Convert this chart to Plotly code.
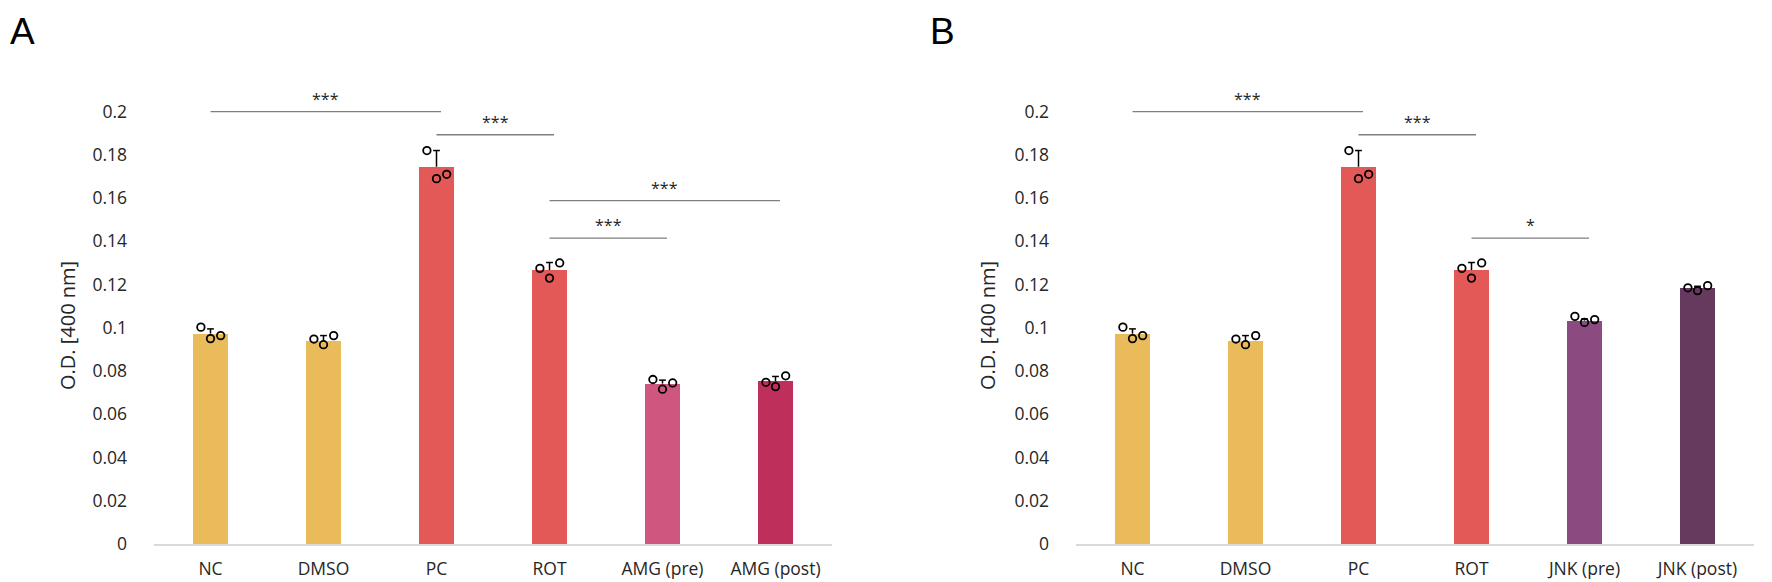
import plotly.graph_objects as go

# ---------------- data ----------------
categories_A = ["NC", "DMSO", "PC", "ROT", "AMG (pre)", "AMG (post)"]
categories_B = ["NC", "DMSO", "PC", "ROT", "JNK (pre)", "JNK (post)"]

means_A = [0.0973, 0.0941, 0.1745, 0.1267, 0.0742, 0.0752]
err_A = [0.0022, 0.0023, 0.0075, 0.0035, 0.0016, 0.0023]
reps_A = [
    [0.1003, 0.0950, 0.0964],
    [0.0948, 0.0922, 0.0964],
    [0.1820, 0.1690, 0.1710],
    [0.1275, 0.1230, 0.1300],
    [0.0761, 0.0716, 0.0745],
    [0.0748, 0.0728, 0.0778],
]

means_B = [0.0973, 0.0941, 0.1745, 0.1267, 0.1033, 0.1184]
err_B = [0.0022, 0.0023, 0.0075, 0.0035, 0.0008, 0.0008]
reps_B = [
    [0.1003, 0.0950, 0.0964],
    [0.0948, 0.0922, 0.0964],
    [0.1820, 0.1690, 0.1710],
    [0.1275, 0.1230, 0.1300],
    [0.1053, 0.1025, 0.1038],
    [0.1185, 0.1172, 0.1195],
]

# significance brackets: (from index, to index, height, label)
brackets_A = [(0, 2, 0.2000, "***"), (2, 3, 0.1893, "***"),
              (3, 5, 0.1588, "***"), (3, 4, 0.1415, "***")]
brackets_B = [(0, 2, 0.2000, "***"), (2, 3, 0.1893, "***"),
              (3, 4, 0.1415, "*")]

y_ticks = [0, 0.02, 0.04, 0.06, 0.08, 0.1, 0.12, 0.14, 0.16, 0.18, 0.2]
y_ticktext = ["0", "0.02", "0.04", "0.06", "0.08", "0.1", "0.12", "0.14", "0.16", "0.18", "0.2"]

# ---------------- styles / layout ----------------
colors_A = ["#E9BB5B", "#E9BB5B", "#E35957", "#E35957", "#CF567E", "#BE2F5C"]
colors_B = ["#E9BB5B", "#E9BB5B", "#E35957", "#E35957", "#8B4A80", "#663A5E"]
JITTER = [-0.085, 0.0, 0.09]
CAP = 0.03
FONT = "Open Sans"
TXT = "#262626"

W, H = 1772, 582
ML, MR, MT, MB = 140, 10, 82, 46
PW = W - ML - MR
PH = H - MT - MB


def px_x(p):
    return (p - ML) / PW


def px_y(p):
    return (H - MB - p) / PH


fig = go.Figure()


def add_panel(cats, means, errs, reps, colors, xa, ya):
    idx = list(range(len(cats)))
    fig.add_trace(go.Bar(x=idx, y=means, width=0.31,
                         marker=dict(color=colors, line=dict(width=0)),
                         xaxis=xa, yaxis=ya, showlegend=False))
    ex, ey = [], []
    for i, (m, e) in enumerate(zip(means, errs)):
        ex += [i, i, None, i - CAP, i + CAP, None]
        ey += [m, m + e, None, m + e, m + e, None]
    fig.add_trace(go.Scatter(x=ex, y=ey, mode="lines",
                             line=dict(color="black", width=1.5),
                             xaxis=xa, yaxis=ya, showlegend=False, hoverinfo="skip"))
    px, py = [], []
    for i, r in enumerate(reps):
        for k, v in enumerate(r):
            px.append(i + JITTER[k])
            py.append(v)
    fig.add_trace(go.Scatter(x=px, y=py, mode="markers",
                             marker=dict(symbol="circle-open", size=7.5, color="black",
                                         line=dict(width=1.8, color="black")),
                             xaxis=xa, yaxis=ya, showlegend=False))


add_panel(categories_A, means_A, err_A, reps_A, colors_A, "x", "y")
add_panel(categories_B, means_B, err_B, reps_B, colors_B, "x2", "y2")

shapes = []
annotations = []
for brs, xr, yr in [(brackets_A, "x", "y"), (brackets_B, "x2", "y2")]:
    for a, b, h, lab in brs:
        shapes.append(dict(type="line", xref=xr, yref=yr, x0=a, x1=b + 0.04, y0=h, y1=h,
                           line=dict(color="#7F7F7F", width=1.3)))
        annotations.append(dict(xref=xr, yref=yr, x=(a + b) / 2 + 0.02, y=h, text=lab,
                                showarrow=False, yanchor="bottom", yshift=0,
                                font=dict(family=FONT, size=16, color=TXT)))

SPAN = 678
dom_A = [px_x(146), px_x(146 + SPAN)]
dom_B = [px_x(1068), px_x(1068 + SPAN)]
for lab, lx, tx in [("A", 0, 59), ("B", 920, 979)]:
    annotations.append(dict(xref="paper", yref="paper", x=px_x(lx), y=px_y(1), text=lab,
                            xanchor="left", yanchor="top", showarrow=False,
                            font=dict(family="Liberation Sans", size=37, color="black")))
    annotations.append(dict(xref="paper", yref="paper", x=px_x(tx), y=px_y(318),
                            text="O.D. [400 nm]", textangle=-90, showarrow=False,
                            xanchor="center", yanchor="middle",
                            font=dict(family=FONT, size=20, color=TXT)))

axis_x = dict(range=[-0.5, 5.5], showgrid=False, zeroline=False, showline=True,
              linecolor="#D9D9D9", linewidth=1.5, ticks="", tickvals=list(range(6)),
              tickfont=dict(family=FONT, size=17.5, color=TXT), ticklabelstandoff=8)
axis_y = dict(range=[0, 0.21], showgrid=False, zeroline=False, showline=False,
              tickvals=y_ticks, ticktext=y_ticktext, ticks="",
              tickfont=dict(family=FONT, size=17.5, color=TXT), ticklabelstandoff=26)

fig.update_layout(
    width=W, height=H,
    margin=dict(l=ML, r=MR, t=MT, b=MB),
    plot_bgcolor="white", paper_bgcolor="white",
    xaxis=dict(axis_x, domain=dom_A, ticktext=categories_A, anchor="y"),
    yaxis=dict(axis_y, domain=[0, 1], anchor="x"),
    xaxis2=dict(axis_x, domain=dom_B, ticktext=categories_B, anchor="y2"),
    yaxis2=dict(axis_y, domain=[0, 1], anchor="x2"),
    shapes=shapes, annotations=annotations,
    bargap=0.0,
)

fig.write_html("out.html")
